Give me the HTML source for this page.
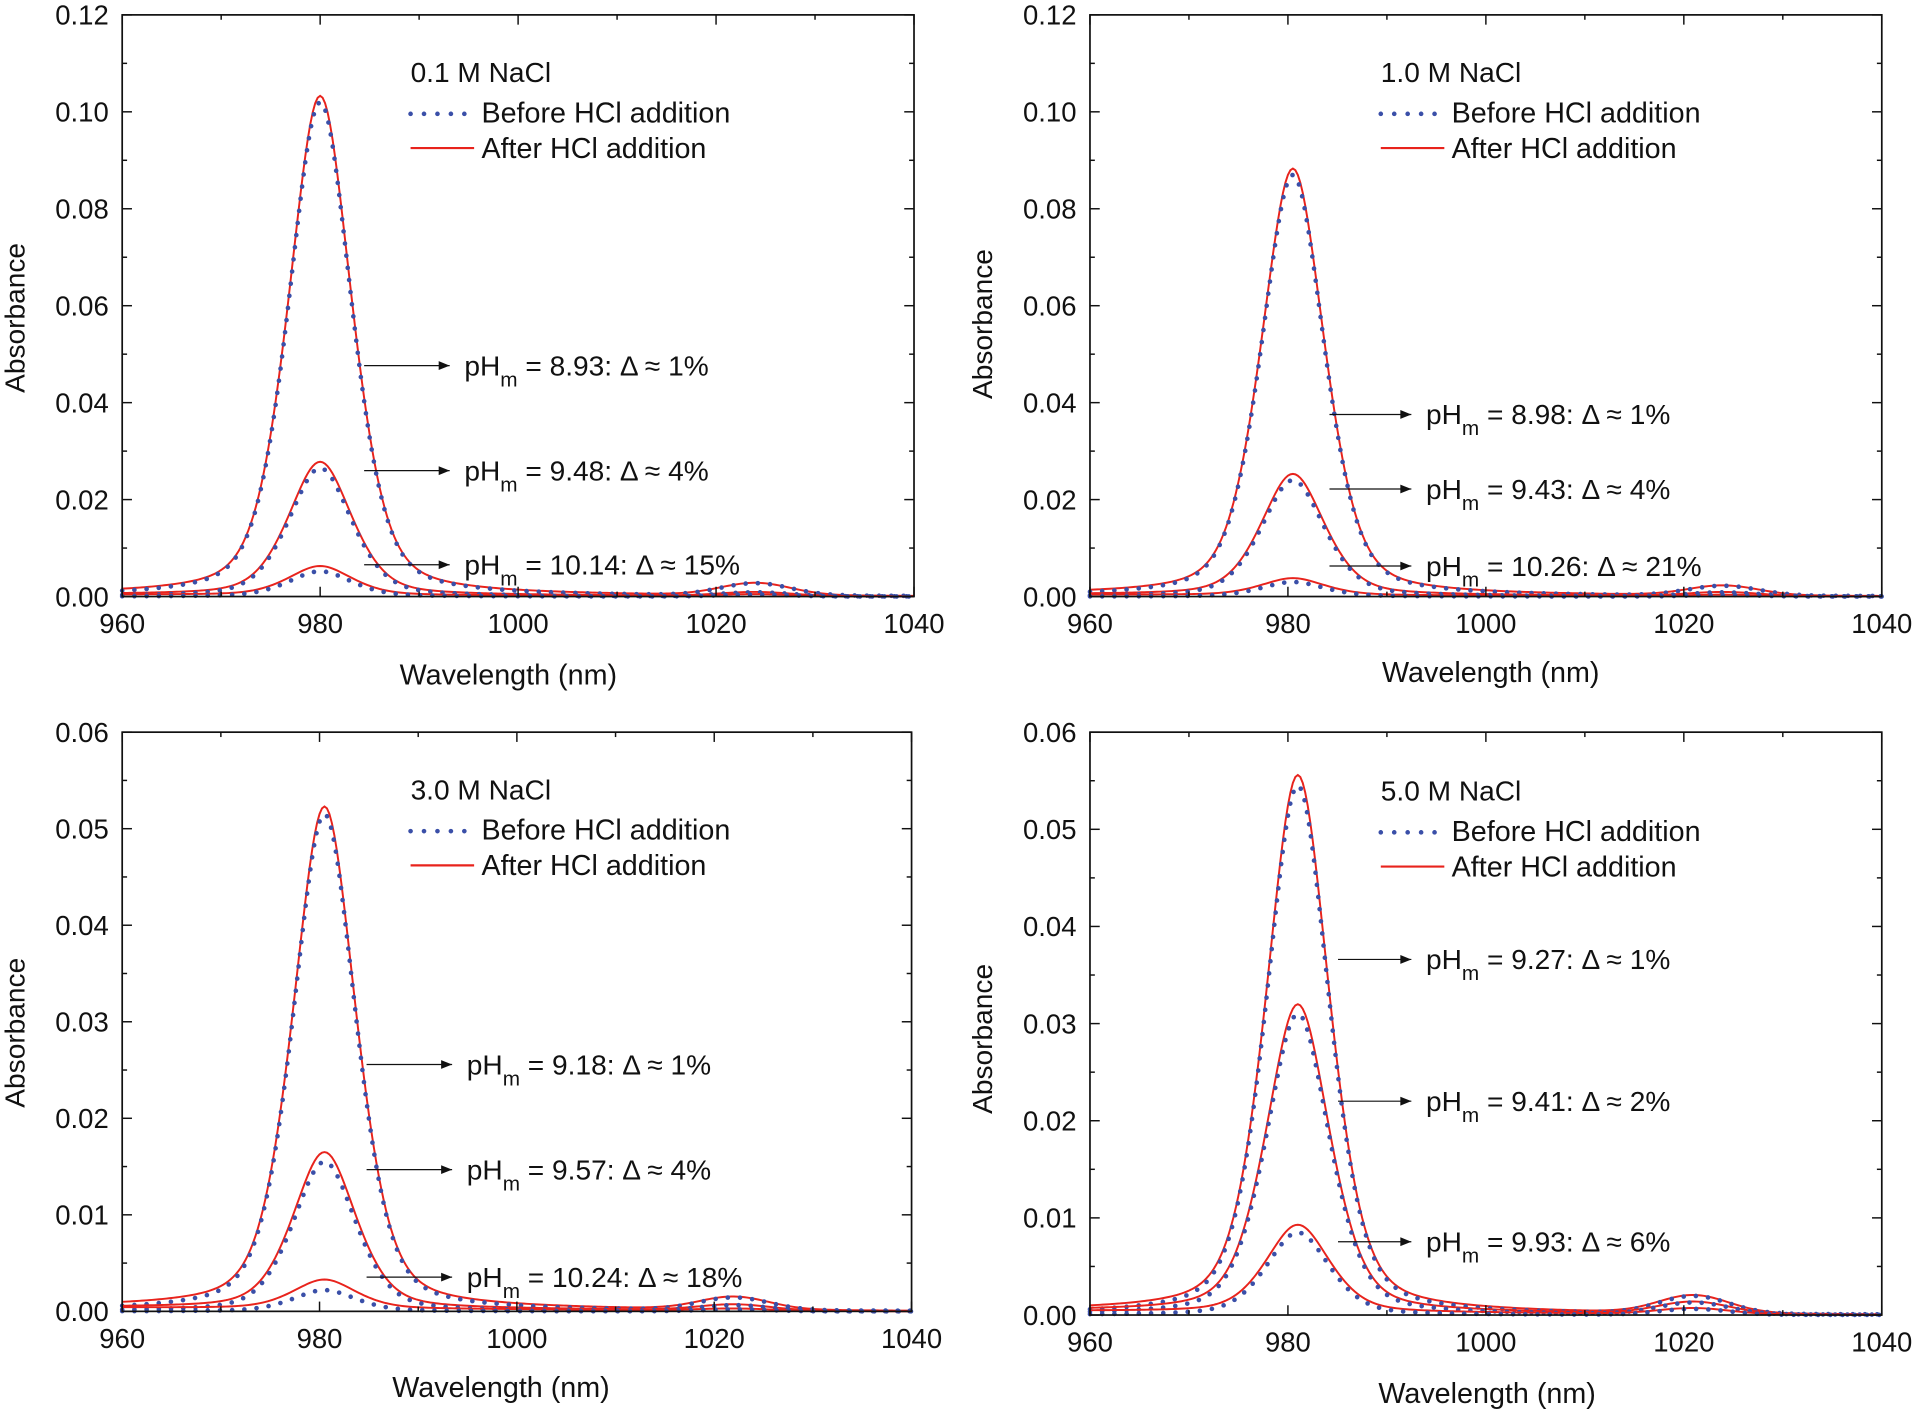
<!DOCTYPE html>
<html><head><meta charset="utf-8"><style>
html,body{margin:0;padding:0;background:#fff}
svg{display:block}
text{font-family:"Liberation Sans",Arial,sans-serif;fill:#111}
</style></head><body>
<svg id="s" width="1916" height="1413" viewBox="0 0 1568 1156" xmlns="http://www.w3.org/2000/svg">
<defs><marker id="ar" viewBox="0 0 10 10" refX="10" refY="5" markerWidth="12" markerHeight="9" orient="auto" markerUnits="userSpaceOnUse"><path d="M0,1 L10,5 L0,9 z" fill="#111"/></marker></defs>
</svg>
<script>
var S=document.getElementById('s');var NS='http://www.w3.org/2000/svg';
function el(t,a,txt){var e=document.createElementNS(NS,t);for(var k in a)e.setAttribute(k,a[k]);if(txt!==undefined)e.textContent=txt;S.appendChild(e);return e;}
function pv(x,c){var d=x-c;var G=Math.exp(-d*d/(2*3.3*3.3));var L=1/(1+(d/3.5)*(d/3.5));return 0.6*G+0.4*L;}
function bump(x,c,w){var d=(x-c)/w;return Math.exp(-d*d/2);}
var panels=[
{x0:100,x1:748,y0:12,y1:488,ymax:0.12,ystep:0.02,c:980,title:"0.1 M NaCl",lx:336,ly:67,
 pk:[[0.103,0.102,0.0025],[0.0275,0.0265,0.0008],[0.006,0.0052,0.0004]],bc:1024,
 ann:[[298,368,299,"8.93","1"],[298,368,385,"9.48","4"],[298,368,462,"10.14","15"]],ax:20,ay:260,wx:416,wy:560},
{x0:892,x1:1540,y0:12,y1:488,ymax:0.12,ystep:0.02,c:980.5,title:"1.0 M NaCl",lx:1130,ly:67,
 pk:[[0.088,0.087,0.002],[0.025,0.024,0.0008],[0.0035,0.003,0.0003]],bc:1024,
 ann:[[1088,1155,339,"8.98","1"],[1088,1155,400,"9.43","4"],[1088,1155,463,"10.26","21"]],ax:812,ay:265,wx:1220,wy:558},
{x0:100,x1:746,y0:599,y1:1073,ymax:0.06,ystep:0.01,c:980.5,title:"3.0 M NaCl",lx:336,ly:654,
 pk:[[0.052,0.0515,0.0013],[0.0162,0.0155,0.0006],[0.003,0.0022,0.0002]],bc:1022,
 ann:[[300,370,871,"9.18","1"],[300,370,957,"9.57","4"],[300,370,1045,"10.24","18"]],ax:20,ay:845,wx:410,wy:1143},
{x0:892,x1:1540,y0:599,y1:1076,ymax:0.06,ystep:0.01,c:981,title:"5.0 M NaCl",lx:1130,ly:655,
 pk:[[0.0553,0.0545,0.0018],[0.0317,0.031,0.0012],[0.009,0.0085,0.0006]],bc:1021,
 ann:[[1095,1155,785,"9.27","1"],[1095,1155,901,"9.41","2"],[1095,1155,1016,"9.93","6"]],ax:812,ay:850,wx:1217,wy:1148}
];
panels.forEach(function(p){
 var W=p.x1-p.x0,H=p.y1-p.y0;
 function X(w){return p.x0+(w-960)/80*W;} function Y(v){return p.y1-v/p.ymax*H;}
 p.pk.forEach(function(k,i){
  ['after','before'].forEach(function(kind){
   var a=kind=='after'?k[0]:k[1];var d='';
   for(var w=960;w<=1040.001;w+=0.25){var v=a*pv(w,p.c)+k[2]*bump(w,p.bc,3.5)+(kind=='after'?0.0004*(1-(w-960)/80):0);
    d+=(w==960?'M':'L')+X(w).toFixed(2)+','+Y(v).toFixed(2);}
   if(kind=='after')el('path',{d:d,fill:'none',stroke:'#e8231c','stroke-width':1.6});
   else el('path',{d:d,fill:'none',stroke:'#3a4fa8','stroke-width':3.8,'stroke-dasharray':'0 10','stroke-linecap':'round'});
  });
 });
 el('rect',{x:p.x0,y:p.y0,width:W,height:H,fill:'none',stroke:'#111','stroke-width':1.4});
 for(var w=960;w<=1040;w+=10){var xx=X(w),maj=(w%20==0),L=maj?8:4;
  el('line',{x1:xx,y1:p.y1,x2:xx,y2:p.y1-L,stroke:'#111','stroke-width':1.2});
  el('line',{x1:xx,y1:p.y0,x2:xx,y2:p.y0+L,stroke:'#111','stroke-width':1.2});
  if(maj)el('text',{x:xx,y:p.y1+30,'font-size':22.5,'text-anchor':'middle'},w);}
 var n=Math.round(p.ymax/(p.ystep/2));
 for(var i=0;i<=n;i++){var v=i*p.ystep/2,yy=Y(v),maj=(i%2==0),L=maj?8:4;
  el('line',{x1:p.x0,y1:yy,x2:p.x0+L,y2:yy,stroke:'#111','stroke-width':1.2});
  el('line',{x1:p.x1,y1:yy,x2:p.x1-L,y2:yy,stroke:'#111','stroke-width':1.2});
  if(maj)el('text',{x:p.x0-11,y:yy+8,'font-size':22.5,'text-anchor':'end'},v.toFixed(2));}
 el('text',{x:p.ax,y:p.ay,'font-size':23,'text-anchor':'middle',transform:'rotate(-90 '+p.ax+' '+p.ay+')'},'Absorbance');
 el('text',{x:p.wx,y:p.wy,'font-size':23.5,'text-anchor':'middle'},'Wavelength (nm)');
 el('text',{x:p.lx,y:p.ly,'font-size':23},p.title);
 el('line',{x1:p.lx,y1:p.ly+26,x2:p.lx+48,y2:p.ly+26,stroke:'#3a4fa8','stroke-width':3.8,'stroke-dasharray':'0 11','stroke-linecap':'round'});
 el('text',{x:p.lx+58,y:p.ly+33,'font-size':23.5},'Before HCl addition');
 el('line',{x1:p.lx,y1:p.ly+54,x2:p.lx+52,y2:p.ly+54,stroke:'#e8231c','stroke-width':1.8});
 el('text',{x:p.lx+58,y:p.ly+62,'font-size':23.5},'After HCl addition');
 p.ann.forEach(function(a){
  el('line',{x1:a[0],y1:a[2],x2:a[1],y2:a[2],stroke:'#111','stroke-width':1,'marker-end':'url(#ar)'});
  var t=el('text',{x:a[1]+12,y:a[2]+8,'font-size':23});
  t.innerHTML='pH<tspan dy="9" font-size="17">m</tspan><tspan dy="-9"> = '+a[3]+': \u0394 \u2248 '+a[4]+'%</tspan>';
 });
});
</script>
</body></html>
